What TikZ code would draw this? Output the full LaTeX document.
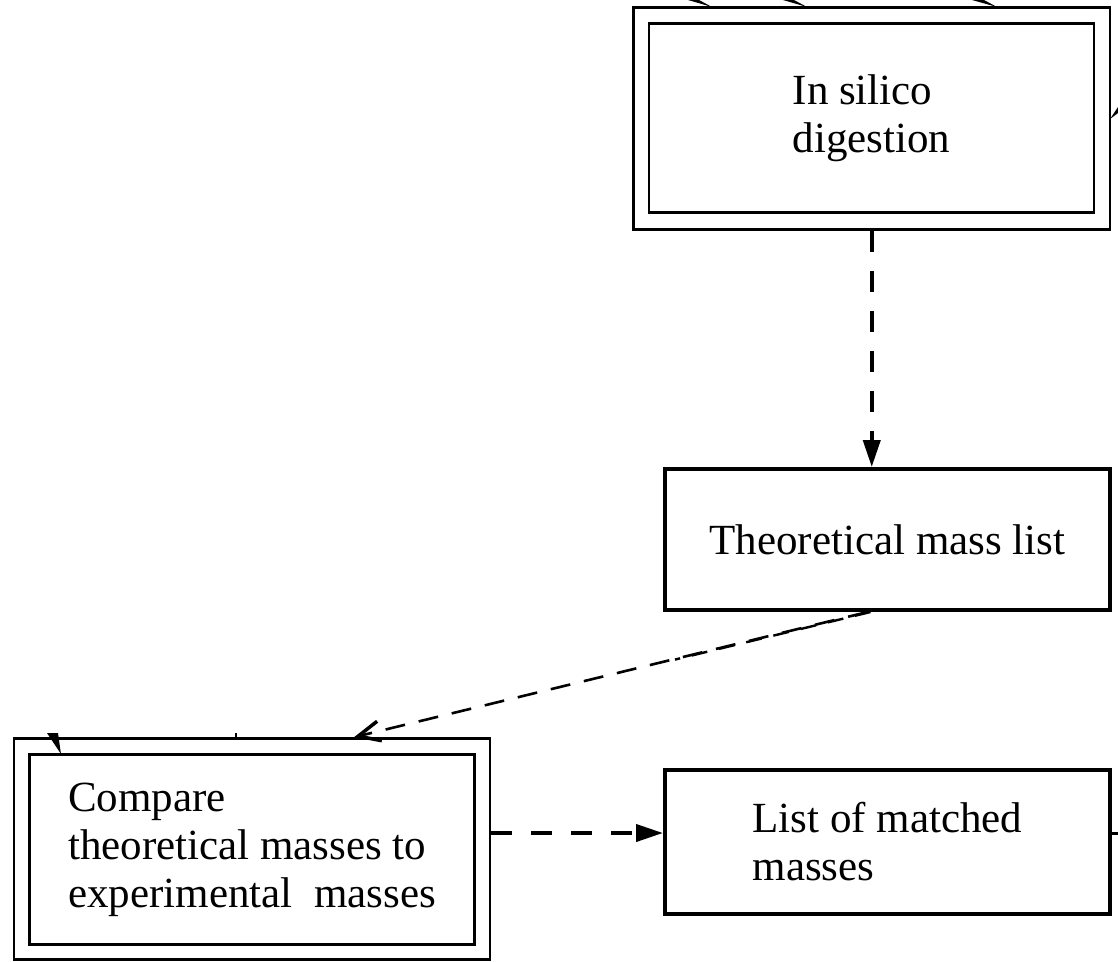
\documentclass[tikz,border=0pt]{standalone}
\usepackage{fontspec}
\setmainfont{Liberation Serif}
\usetikzlibrary{arrows.meta,calc}
\begin{document}
\begin{tikzpicture}[x=1pt,y=-1pt,
  txt/.style={font=\fontsize{43}{48}\selectfont},
  box/.style={draw, rectangle, line width=4pt, inner sep=0pt, align=left, txt},
  frame/.style={draw, rectangle, line width=2.6pt, inner sep=0pt, align=left, txt},
  flow/.style={line width=4pt, dash pattern=on 21pt off 19pt,
               -{Triangle[length=27pt,width=17pt]}},
  feed/.style={line width=2.6pt, dash pattern=on 20pt off 14pt,
               -{Straight Barb[length=22pt,width=20pt,line width=3.5pt]}},
  stub/.style={line width=3pt},
]
\useasboundingbox (0,0) rectangle (1118,961);

% In silico digestion (double frame)
\node[frame, minimum width=476.5pt, minimum height=222pt] (silicoOut) at (871.75,118.5) {};
\node[frame, minimum width=445pt, minimum height=189pt] (silico) at (871.5,118) {In silico\\digestion};

% Theoretical mass list
\node[box, minimum width=445pt, minimum height=141pt] (theory) at (887.5,539.5) {Theoretical mass list};

% Comparison step (double frame)
\node[frame, minimum width=476pt, minimum height=221pt] (cmpOut) at (252,849) {};
\node[frame, minimum width=445pt, minimum height=190pt] (cmp) at (252,849.5)
  {Compare\\theoretical masses to\\experimental\ \ masses};

% List of matched masses
\node[box, minimum width=445pt, minimum height=143.5pt] (list) at (887.5,841.75) {List of matched\\masses};

% connectors
\draw[flow] (silicoOut.south) -- (silicoOut.south |- theory.north);
\draw[feed] ([xshift=-20pt]theory.south) -- ([xshift=102pt]cmpOut.north);
\draw[line width=2.4pt, dash pattern=on 16pt off 12pt]
  ([xshift=-17pt]theory.south) -- ($([xshift=-17pt]theory.south)!0.38!([xshift=104pt]cmpOut.north)$);
\draw[flow] (cmpOut.east |- 0,833) -- (list.west |- 0,833);

% connectors continuing beyond the frame
\coordinate (rightEnd) at (1118,833);
\draw[stub] (list.east |- rightEnd) -- (rightEnd);

\coordinate (topA) at (712,7);
\coordinate (topB) at (807,7);
\coordinate (topC) at (997,7);
\fill (688,0) -- (699,0) -- (topA) -- cycle;
\fill (783,0) -- (794,0) -- (topB) -- cycle;
\fill (972,0) -- (984,0) -- (topC) -- cycle;

\coordinate (sideA) at (1110,119);
\fill (sideA) -- (1118,107) -- (1118,113) -- cycle;

\coordinate (cmpTip) at (61,754);
\fill (47,733) -- (58,733) -- (cmpTip) -- cycle;
\coordinate (cmpTick) at (236,733);
\draw[line width=1.6pt] (cmpTick) -- (cmpTick |- cmpOut.north);
\end{tikzpicture}
\end{document}
